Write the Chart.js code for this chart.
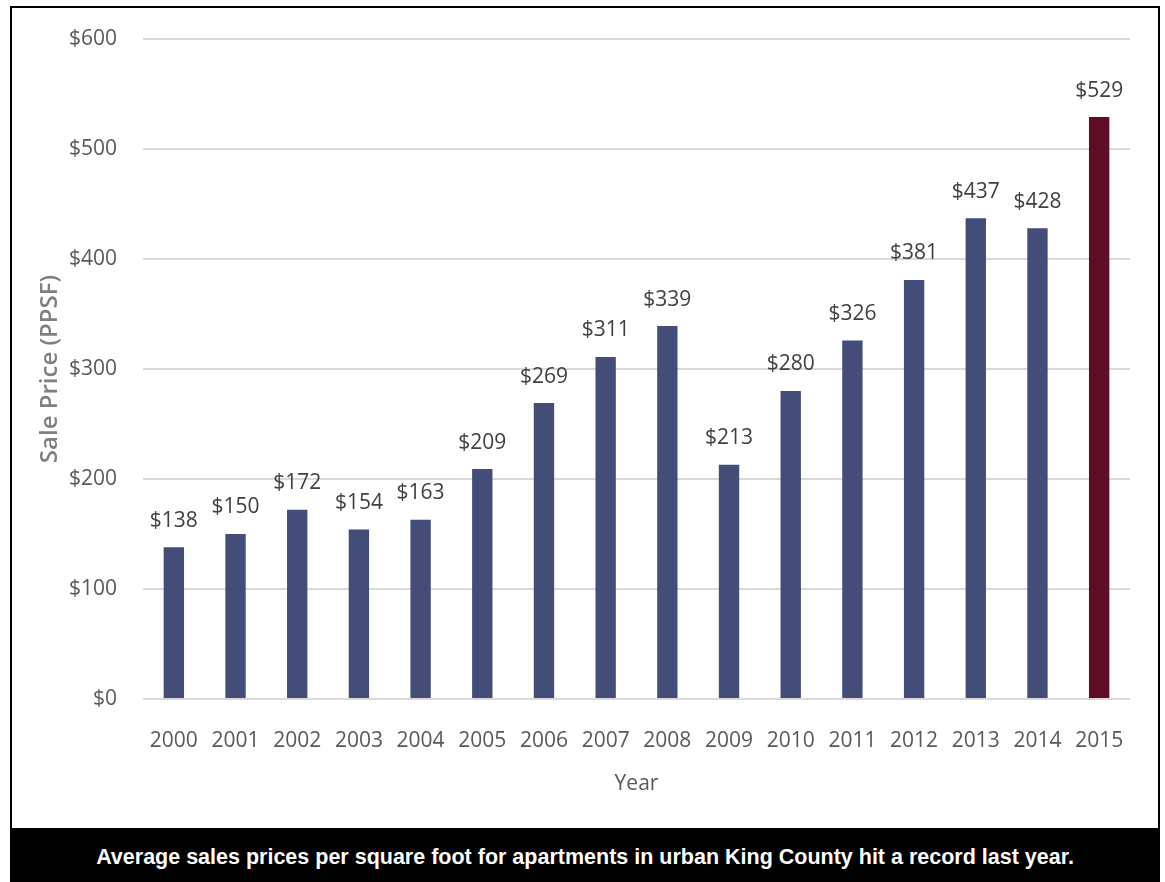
<html>
  <head>
    <meta charset="UTF-8">
    <title>King County apartment sale prices</title>
    <script src="https://cdn.jsdelivr.net/npm/chart.js@4.4.0/dist/chart.umd.min.js"></script>
    <style>
      body {
        margin: 0;
        background: #fff;
      }
      .frame {
        position: absolute;
        left: 10px;
        top: 6px;
        width: 1146px;
        height: 880px;
        border: 2px solid #000;
        border-bottom: none;
      }
      .chartWrapper {
        position: absolute;
        left: 0;
        top: 0;
        width: 1146px;
        height: 820px;
      }
      .caption {
        position: absolute;
        left: 0;
        top: 820px;
        width: 1146px;
        height: 60px;
        background: #000;
        color: #fff;
        font-family: 'Liberation Sans', Arial, sans-serif;
        font-weight: bold;
        font-size: 21.5px;
        text-align: center;
        line-height: 58px;
      }
    </style>
  </head>
  <body>
    <div class="frame">
      <div class="chartWrapper">
        <canvas id="chartPrices"></canvas>
      </div>
      <div class="caption">Average sales prices per square foot for apartments in urban King County hit a record last year.</div>
    </div>

    <script>
      const years = ['2000', '2001', '2002', '2003', '2004', '2005', '2006', '2007',
                     '2008', '2009', '2010', '2011', '2012', '2013', '2014', '2015'];
      const prices = [138, 150, 172, 154, 163, 209, 269, 311, 339, 213, 280, 326, 381, 437, 428, 529];
      const yTicks = [0, 100, 200, 300, 400, 500, 600];

      const navy = '#434d78';
      const maroon = '#5e0d24';
      const labelFont = "'Open Sans', sans-serif";

      // values above each bar
      const valueLabels = {
        id: 'valueLabels',
        afterDatasetsDraw(chart) {
          const ctx = chart.ctx;
          const meta = chart.getDatasetMeta(0);
          ctx.save();
          ctx.font = '21px ' + labelFont;
          ctx.fillStyle = '#404040';
          ctx.textAlign = 'center';
          ctx.textBaseline = 'bottom';
          meta.data.forEach((bar, i) => {
            ctx.fillText('$' + prices[i], bar.x, bar.y - 16);
          });
          ctx.restore();
        }
      };

      document.addEventListener("DOMContentLoaded", function() {
        new Chart(document.getElementById('chartPrices'), {
          type: 'bar',
          data: {
            labels: years,
            datasets: [{
              data: prices,
              backgroundColor: years.map((y) => y === '2015' ? maroon : navy),
              barPercentage: 0.33,
              categoryPercentage: 1.0,
            }]
          },
          options: {
            responsive: true,
            maintainAspectRatio: false,
            animation: false,
            layout: {
              padding: { top: 31, right: 28, bottom: 0, left: 0 }
            },
            scales: {
              x: {
                grid: { display: false },
                border: { display: false },
                ticks: {
                  color: '#595959',
                  font: { family: labelFont, size: 21 },
                  padding: 21,
                },
                title: {
                  display: true,
                  text: 'Year',
                  color: '#595959',
                  font: { family: labelFont, size: 21 },
                  padding: { top: 0, bottom: 31 },
                },
                afterFit(scale) {
                  scale.height = 129;
                }
              },
              y: {
                min: 0,
                max: 600,
                afterBuildTicks(scale) {
                  scale.ticks = yTicks.map((v) => ({ value: v }));
                },
                grid: {
                  color: '#d9d9d9',
                  lineWidth: 2,
                  drawTicks: true,
                  tickLength: 26,
                  tickColor: 'transparent',
                },
                border: { display: false },
                ticks: {
                  color: '#595959',
                  font: { family: labelFont, size: 21 },
                  padding: 0,
                  callback: (v) => '$' + v,
                },
                title: {
                  display: true,
                  text: 'Sale Price (PPSF)',
                  color: '#7f7f7f',
                  font: { family: labelFont, size: 24, weight: '600' },
                  padding: { top: 24, bottom: 0 },
                },
                afterFit(scale) {
                  scale.width = 131;
                }
              }
            },
            plugins: {
              legend: { display: false },
              tooltip: { enabled: false },
            },
          },
          plugins: [valueLabels]
        });
      });
    </script>
  </body>
</html>
